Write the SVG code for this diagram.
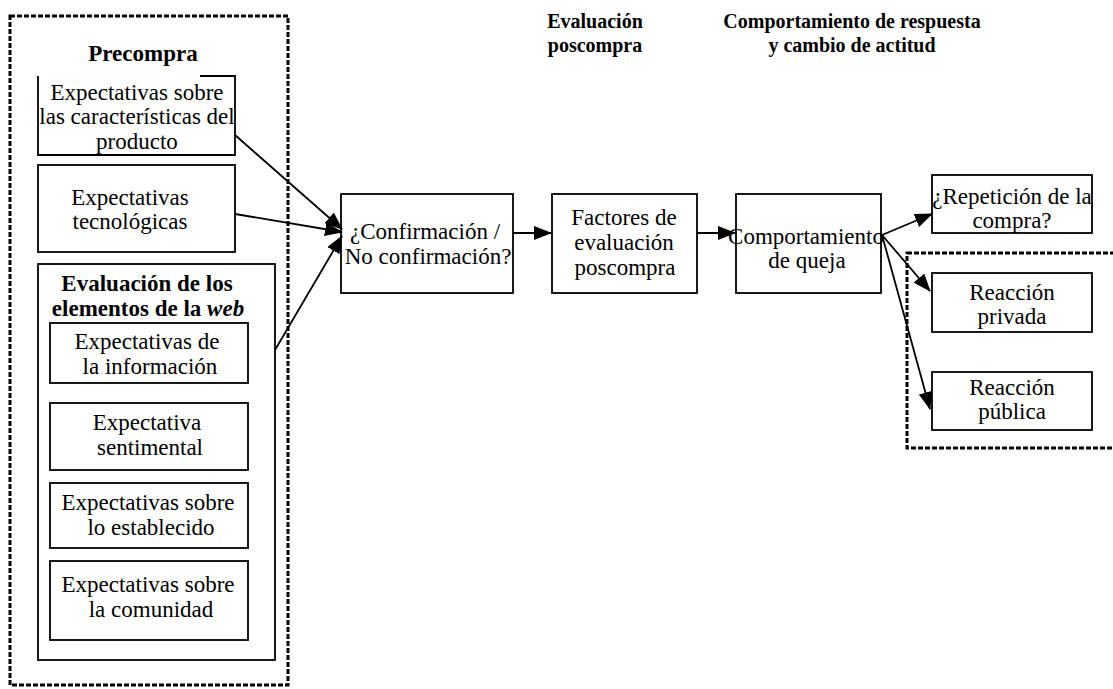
<svg xmlns="http://www.w3.org/2000/svg" width="1113" height="689" viewBox="0 0 1113 689">
<style>
  .box { fill: #fff; stroke: #000; stroke-width: 1.8; }
  .dash { fill: none; stroke: #000; stroke-width: 3; stroke-dasharray: 5 2; }
  text { font-size: 23px; fill: #000; text-anchor: middle; }
  .b { font-weight: bold; }
  .h { font-weight: bold; font-size: 20px; }
  .conn { fill: none; stroke: #000; stroke-width: 1.8; marker-end: url(#ah); }
</style>
<defs>
  <marker id="ah" markerWidth="18" markerHeight="14" refX="17" refY="7" orient="auto" markerUnits="userSpaceOnUse">
    <path d="M0,0 L18,7 L0,14 Z" fill="#000"/>
  </marker>
</defs>
<rect width="1113" height="689" fill="#fff"/>
<g font-family="Liberation Serif, Times New Roman, serif">

<g id="headers">
  <text class="h" x="595" y="28">Evaluación</text>
  <text class="h" x="595" y="52">poscompra</text>
  <text class="h" x="852" y="28">Comportamiento de respuesta</text>
  <text class="h" x="852" y="52">y cambio de actitud</text>
</g>

<g id="precompra-group">
  <rect class="dash" x="10" y="16" width="278" height="669"/>
  <text class="b" x="143" y="61">Precompra</text>
</g>

<g id="n-producto">
  <rect x="38" y="76" width="197" height="79" fill="#fff"/>
  <path d="M200,76 H235 V155 H38 V76" fill="none" stroke="#000" stroke-width="1.8"/>
  <text x="137" y="100">Expectativas sobre</text>
  <text x="137" y="124">las características del</text>
  <text x="137" y="149">producto</text>
</g>
<g id="n-tecnologicas">
  <rect class="box" x="38" y="165" width="197" height="87"/>
  <text x="130" y="205">Expectativas</text>
  <text x="130" y="229">tecnológicas</text>
</g>
<g id="n-web">
  <rect class="box" x="38" y="264" width="237" height="396"/>
  <text class="b" x="147" y="291">Evaluación de los</text>
  <text class="b" x="148" y="316">elementos de la <tspan font-style="italic">web</tspan></text>
</g>
<g id="n-informacion">
  <rect class="box" x="50" y="323" width="198" height="60"/>
  <text x="147" y="349">Expectativas de</text>
  <text x="150" y="374">la información</text>
</g>
<g id="n-sentimental">
  <rect class="box" x="50" y="403" width="198" height="67"/>
  <text x="147" y="430">Expectativa</text>
  <text x="150" y="455">sentimental</text>
</g>
<g id="n-establecido">
  <rect class="box" x="50" y="483" width="198" height="65"/>
  <text x="148" y="510">Expectativas sobre</text>
  <text x="151" y="535">lo establecido</text>
</g>
<g id="n-comunidad">
  <rect class="box" x="50" y="561" width="198" height="79"/>
  <text x="148" y="592">Expectativas sobre</text>
  <text x="151" y="617">la comunidad</text>
</g>

<g id="n-confirmacion">
  <rect class="box" x="341" y="194" width="172" height="99"/>
  <text x="425" y="239">¿Confirmación /</text>
  <text x="428" y="264">No confirmación?</text>
</g>
<g id="n-factores">
  <rect class="box" x="552" y="194" width="145" height="99"/>
  <text x="624" y="225">Factores de</text>
  <text x="624" y="250">evaluación</text>
  <text x="625" y="275">poscompra</text>
</g>
<g id="n-queja">
  <rect class="box" x="736" y="194" width="145" height="99"/>
  <text x="806" y="244">Comportamiento</text>
  <text x="807" y="268">de queja</text>
</g>
<g id="n-repeticion">
  <rect class="box" x="932" y="175" width="160" height="58"/>
  <text x="1012" y="204">¿Repetición de la</text>
  <text x="1012" y="228">compra?</text>
</g>
<g id="reaccion-group">
  <rect class="dash" x="907" y="253" width="215" height="195"/>
</g>
<g id="n-privada">
  <rect class="box" x="932" y="273" width="160" height="59"/>
  <text x="1012" y="300">Reacción</text>
  <text x="1012" y="324">privada</text>
</g>
<g id="n-publica">
  <rect class="box" x="932" y="372" width="160" height="58"/>
  <text x="1012" y="395">Reacción</text>
  <text x="1012" y="419">pública</text>
</g>
</g>

<g id="connectors">
  <line class="conn" x1="235" y1="135" x2="342" y2="229"/>
  <line class="conn" x1="235" y1="214" x2="342" y2="232"/>
  <line class="conn" x1="275" y1="350" x2="342" y2="236"/>
  <line class="conn" x1="513" y1="233" x2="551" y2="233"/>
  <line class="conn" x1="697" y1="233" x2="735" y2="233"/>
  <line class="conn" x1="882" y1="235" x2="932" y2="214"/>
  <line class="conn" x1="882" y1="235" x2="930" y2="291"/>
  <line class="conn" x1="882" y1="235" x2="930" y2="409"/>
</g>
</svg>
